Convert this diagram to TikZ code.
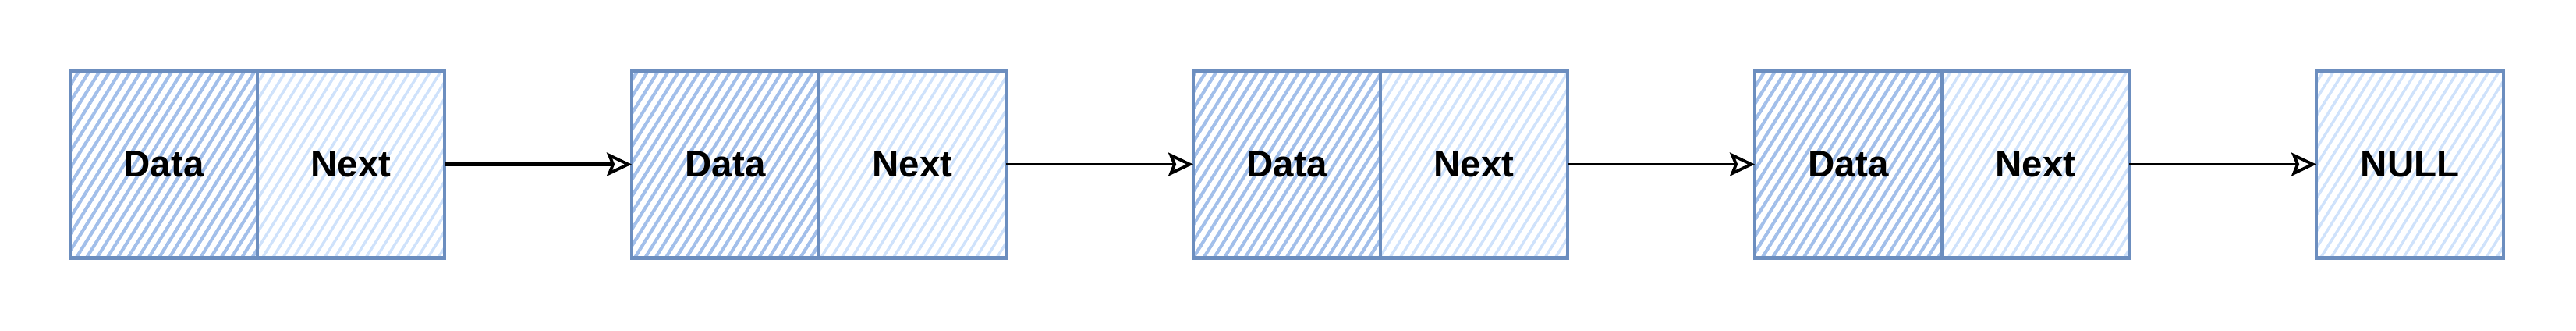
\documentclass[tikz,border=0pt]{standalone}
\usepackage{fontspec}
\setmainfont{Liberation Sans}
\usepackage{xcolor}
\usetikzlibrary{arrows.meta,positioning,patterns.meta}

\definecolor{cellline}{HTML}{6C8EBF}
\definecolor{datahatch}{HTML}{A2BFEA}
\definecolor{nexthatch}{HTML}{CFE2FB}

\begin{document}
\begin{tikzpicture}[font=\fontsize{13.5}{16}\selectfont\bfseries,
  cell/.style={draw=cellline,line width=1.2pt,minimum width=2.4cm,minimum height=2.4cm,inner sep=0pt,outer sep=0pt},
  datacell/.style={cell,pattern={Lines[angle=58,distance=3.2pt,line width=1.2pt]},pattern color=datahatch},
  nextcell/.style={cell,pattern={Lines[angle=58,distance=3.2pt,line width=1pt]},pattern color=nexthatch},
  link/.style={-{Stealth[open,length=3.2mm,width=3mm,inset=0.6mm,line width=1.1pt]},line width=1pt},node distance=2.4cm]
  \useasboundingbox (0,0) rectangle (33.03,4.23);
  \node[datacell](d1) at (2.1,2.125){Data};
  \node[nextcell,right=0pt of d1](n1){Next};
  \node[datacell,right=of n1](d2){Data};
  \node[nextcell,right=0pt of d2](n2){Next};
  \node[datacell,right=of n2](d3){Data};
  \node[nextcell,right=0pt of d3](n3){Next};
  \node[datacell,right=of n3](d4){Data};
  \node[nextcell,right=0pt of d4](n4){Next};
  \node[nextcell,right=of n4](null){NULL};
  \draw[link,line width=1.4pt](n1)--(d2);\draw[link](n2)--(d3);\draw[link](n3)--(d4);\draw[link](n4)--(null);
\end{tikzpicture}
\end{document}
